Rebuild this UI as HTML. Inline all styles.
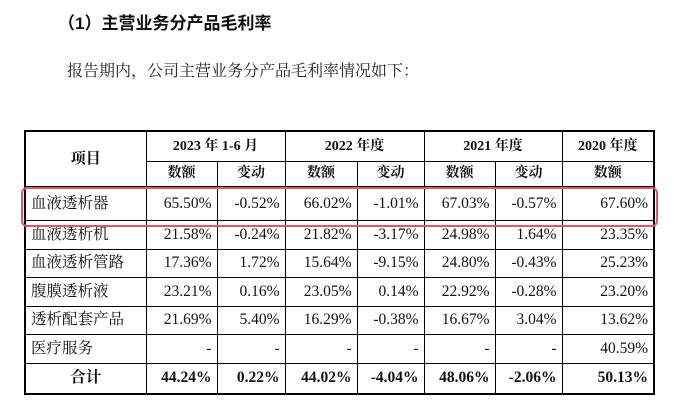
<!DOCTYPE html>
<html><head><meta charset="utf-8"><style>
body{margin:0;width:674px;height:406px;background:#fff;position:relative;overflow:hidden;font-family:"Liberation Serif","Noto Serif CJK SC",serif;color:#111}
.t{position:absolute;left:58px;top:9px;font-size:17px;font-weight:bold;font-family:"Liberation Sans","Noto Sans CJK SC",sans-serif}
.s{position:absolute;left:67px;top:58px;font-size:16px;font-family:"Liberation Serif","Noto Serif CJK SC",serif;color:#222}
table{position:absolute;left:24px;top:130px;border-collapse:collapse;border:2.5px solid #000;font-size:15.5px;table-layout:fixed;width:629px}
td{border:1px solid #000;padding:0 5px;text-align:right;height:27.5px;line-height:18px;overflow:hidden;white-space:nowrap}
td.l{text-align:left}
tr.h td{text-align:center;font-weight:bold;font-size:14px;height:24px}
tr.b td{font-weight:bold}
.r{position:absolute;left:21px;top:187px;width:633px;height:36px;border:2.5px solid #e0566a;border-radius:6px}
</style></head><body>
<div class="t">（1）主营业务分产品毛利率</div>
<div class="s">报告期内，公司主营业务分产品毛利率情况如下：</div>
<table>
<colgroup><col style="width:121px"><col style="width:71px"><col style="width:68px"><col style="width:72px"><col style="width:67px"><col style="width:71px"><col style="width:67px"><col style="width:92px"></colgroup>
<tr class="h"><td rowspan="2" style="font-size:15px">项目</td><td colspan="2" style="height:29px">2023 年 1-6 月</td><td colspan="2">2022 年度</td><td colspan="2">2021 年度</td><td>2020 年度</td></tr>
<tr class="h"><td>数额</td><td>变动</td><td>数额</td><td>变动</td><td>数额</td><td>变动</td><td>数额</td></tr>
<tr><td class="l" style="height:33px">血液透析器</td><td>65.50%</td><td>-0.52%</td><td>66.02%</td><td>-1.01%</td><td>67.03%</td><td>-0.57%</td><td>67.60%</td></tr>
<tr><td class="l">血液透析机</td><td>21.58%</td><td>-0.24%</td><td>21.82%</td><td>-3.17%</td><td>24.98%</td><td>1.64%</td><td>23.35%</td></tr>
<tr><td class="l">血液透析管路</td><td>17.36%</td><td>1.72%</td><td>15.64%</td><td>-9.15%</td><td>24.80%</td><td>-0.43%</td><td>25.23%</td></tr>
<tr><td class="l">腹膜透析液</td><td>23.21%</td><td>0.16%</td><td>23.05%</td><td>0.14%</td><td>22.92%</td><td>-0.28%</td><td>23.20%</td></tr>
<tr><td class="l">透析配套产品</td><td>21.69%</td><td>5.40%</td><td>16.29%</td><td>-0.38%</td><td>16.67%</td><td>3.04%</td><td>13.62%</td></tr>
<tr><td class="l">医疗服务</td><td>-</td><td>-</td><td>-</td><td>-</td><td>-</td><td>-</td><td>40.59%</td></tr>
<tr class="b"><td style="text-align:center;height:29px">合计</td><td>44.24%</td><td>0.22%</td><td>44.02%</td><td>-4.04%</td><td>48.06%</td><td>-2.06%</td><td>50.13%</td></tr>
</table>
<div class="r"></div>
</body></html>
